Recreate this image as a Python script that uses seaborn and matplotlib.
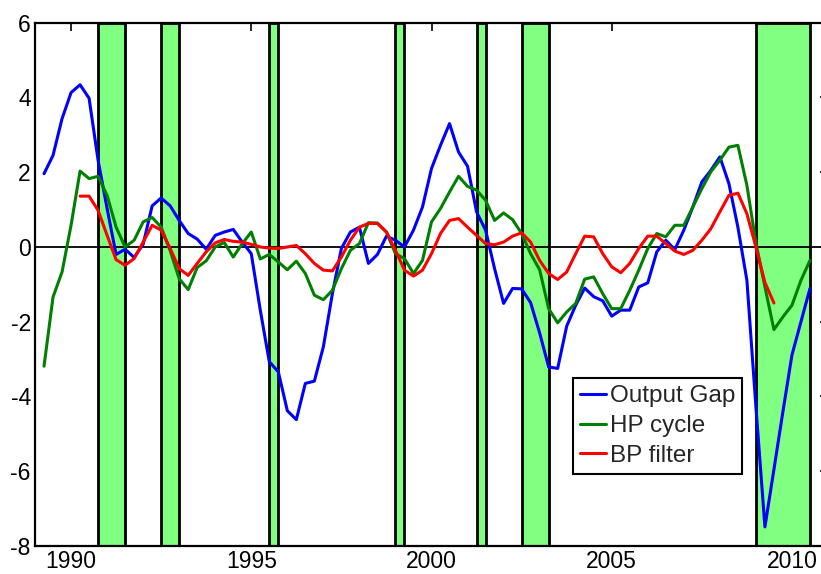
import numpy as np
import pandas as pd
import matplotlib
matplotlib.use("Agg")
import matplotlib.pyplot as plt
import seaborn as sns

# ---------------- data (quarterly) ----------------
gap_start = 1989.25   # first quarter of Output Gap and HP cycle
bp_start = 1990.25    # first quarter of BP filter

output_gap = [
    1.96, 2.45, 3.43,                 # 1989
    4.13, 4.34, 3.98, 2.32,           # 1990
    1.03, -0.20, -0.06, -0.28,        # 1991
    0.07, 1.10, 1.31, 1.10,           # 1992
    0.71, 0.36, 0.21, -0.06,          # 1993
    0.31, 0.40, 0.47, 0.13,           # 1994
    -0.18, -1.69, -3.07, -3.34,       # 1995
    -4.38, -4.62, -3.65, -3.59,       # 1996
    -2.67, -1.25, -0.04, 0.40,        # 1997
    0.53, -0.44, -0.20, 0.29,         # 1998
    0.18, 0.00, 0.45, 1.07,           # 1999
    2.10, 2.72, 3.30, 2.54,           # 2000
    2.16, 0.94, 0.45, -0.58,          # 2001
    -1.51, -1.11, -1.12, -1.49,       # 2002
    -2.30, -3.21, -3.25, -2.12,       # 2003
    -1.56, -1.10, -1.33, -1.44,       # 2004
    -1.85, -1.69, -1.69, -1.07,       # 2005
    -0.96, -0.13, 0.18, -0.07,        # 2006
    0.45, 1.07, 1.74, 2.05,           # 2007
    2.41, 1.70, 0.53, -0.89,          # 2008
    -4.28, -7.49, -5.95, -4.40,       # 2009
    -2.89, -2.00, -1.11,              # 2010
]

hp_cycle = [
    -3.19, -1.34, -0.67,              # 1989
    0.58, 2.03, 1.83, 1.89,           # 1990
    1.38, 0.53, 0.00, 0.18,           # 1991
    0.67, 0.79, 0.53, -0.10,          # 1992
    -0.85, -1.14, -0.55, -0.37,       # 1993
    0.00, 0.12, -0.27, 0.09,          # 1994
    0.40, -0.32, -0.20, -0.40,        # 1995
    -0.61, -0.38, -0.71, -1.29,       # 1996
    -1.41, -1.16, -0.58, -0.09,       # 1997
    0.09, 0.65, 0.64, 0.40,           # 1998
    -0.18, -0.31, -0.71, -0.36,       # 1999
    0.67, 1.03, 1.47, 1.89,           # 2000
    1.62, 1.52, 1.25, 0.71,           # 2001
    0.91, 0.73, 0.36, -0.18,          # 2002
    -0.61, -1.65, -2.03, -1.74,       # 2003
    -1.51, -0.86, -0.80, -1.25,       # 2004
    -1.65, -1.65, -1.16, -0.62,       # 2005
    -0.04, 0.36, 0.27, 0.58,          # 2006
    0.58, 1.07, 1.56, 2.01,           # 2007
    2.32, 2.67, 2.72, 1.65,           # 2008
    0.11, -1.07, -2.21, -1.87,        # 2009
    -1.56, -0.89, -0.36,              # 2010
]

bp_filter = [
    1.36, 1.36, 0.98,                 # 1990
    0.31, -0.34, -0.49, -0.31,        # 1991
    0.13, 0.58, 0.45, -0.04,          # 1992
    -0.58, -0.76, -0.44, -0.13,       # 1993
    0.11, 0.20, 0.15, 0.13,           # 1994
    0.07, 0.00, -0.03, -0.04,         # 1995
    0.00, 0.04, -0.18, -0.44,         # 1996
    -0.62, -0.64, -0.27, 0.18,        # 1997
    0.53, 0.63, 0.63, 0.40,           # 1998
    -0.09, -0.62, -0.78, -0.62,       # 1999
    -0.18, 0.36, 0.71, 0.76,          # 2000
    0.53, 0.31, 0.09, 0.06,           # 2001
    0.13, 0.29, 0.38, 0.13,           # 2002
    -0.36, -0.71, -0.87, -0.67,       # 2003
    -0.18, 0.29, 0.27, -0.18,         # 2004
    -0.53, -0.69, -0.44, -0.04,       # 2005
    0.29, 0.29, 0.09, -0.11,          # 2006
    -0.20, -0.09, 0.18, 0.49,         # 2007
    0.94, 1.38, 1.44, 0.89,           # 2008
    0.00, -0.95, -1.50,               # 2009
]

series_names = ["Output Gap", "HP cycle", "BP filter"]
series_colors = ["#0000ff", "#008000", "#ff0000"]

recession_starts = [1990.75, 1992.5, 1995.5, 1999.0, 2001.25, 2002.5, 2009.0]
recession_ends = [1991.5, 1993.0, 1995.75, 1999.25, 2001.5, 2003.25, 2010.5]

x_ticks = [1990, 1995, 2000, 2005, 2010]
y_ticks = [-8, -6, -4, -2, 0, 2, 4, 6]

# ---------------- build long table ----------------
def quarters(start, n):
    return start + 0.25 * np.arange(n)

frames = []
for name, start, vals in [
    (series_names[0], gap_start, output_gap),
    (series_names[1], gap_start, hp_cycle),
    (series_names[2], bp_start, bp_filter),
]:
    frames.append(pd.DataFrame({"Year": quarters(start, len(vals)),
                                "Value": vals, "Series": name}))
df = pd.concat(frames, ignore_index=True)

# ---------------- plot ----------------
sns.set_theme(style="white")
plt.rcParams["font.family"] = ["Liberation Sans", "DejaVu Sans"]
plt.rcParams["axes.unicode_minus"] = False

W, H = 821, 574
fig = plt.figure(figsize=(W / 100, H / 100), dpi=100)
ax = fig.add_axes([35 / W, 28 / H, 793 / W, 523.3 / H])

for a, b in zip(recession_starts, recession_ends):
    ax.axvspan(a, b, facecolor="#80ff80", edgecolor="black",
               linewidth=2.0, zorder=1)

ax.axhline(0, color="black", linewidth=1.3, zorder=2)

sns.lineplot(data=df, x="Year", y="Value", hue="Series",
             hue_order=series_names, palette=series_colors,
             linewidth=2.2, errorbar=None, ax=ax, zorder=3)

ax.set_xlim(1989, 2011)
ax.set_ylim(-8, 6)
ax.set_xticks(x_ticks)
ax.set_yticks(y_ticks)
ax.set_xlabel("")
ax.set_ylabel("")
ax.tick_params(direction="in", length=6, width=1.2, top=True, right=True,
               labelsize=16.5, colors="black", pad=3)
for s in ax.spines.values():
    s.set_color("black")
    s.set_linewidth(1.6)

handles, labels = ax.get_legend_handles_labels()
leg = ax.legend(handles, labels, loc="upper left",
                bbox_to_anchor=(0.678, 0.321), borderaxespad=0,
                frameon=True, fancybox=False, edgecolor="black",
                framealpha=1, fontsize=17.5, handlelength=1.07,
                handletextpad=0.15, labelspacing=0.32, borderpad=0.3)
leg.get_frame().set_linewidth(1.5)
for line in leg.get_lines():
    line.set_linewidth(2.2)

fig.savefig("out.png", dpi=100)
